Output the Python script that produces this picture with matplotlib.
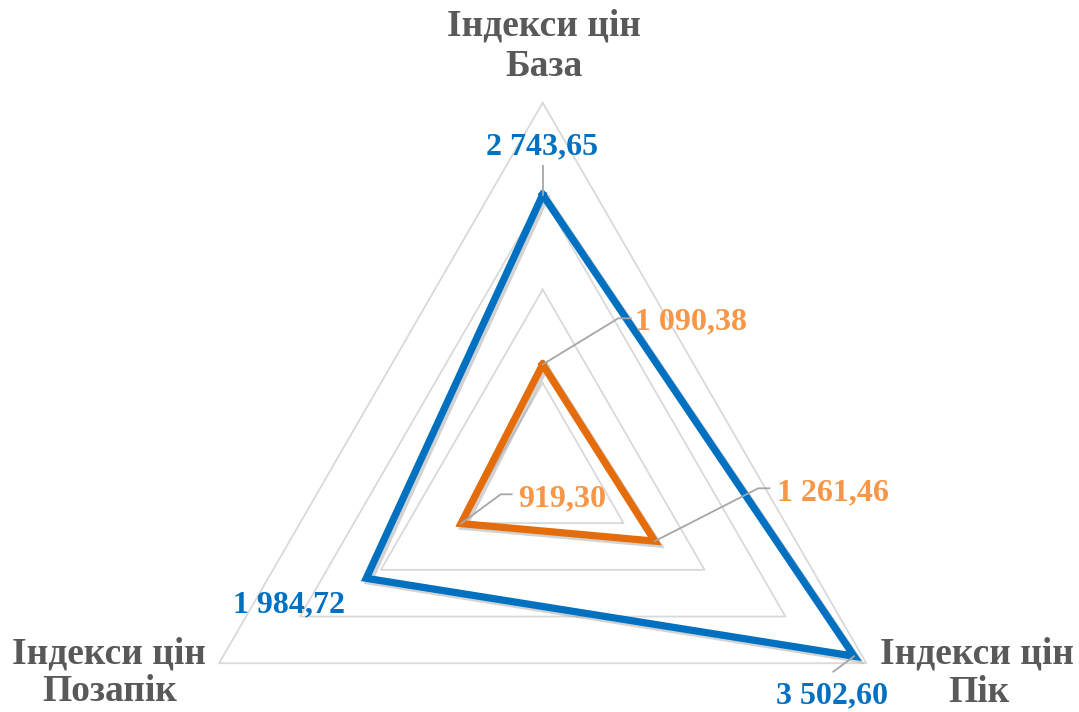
import numpy as np
import matplotlib.pyplot as plt
import matplotlib.patheffects as pe
from matplotlib.lines import Line2D

W, H = 1079, 712

# дані
categories = ['Індекси цін\nБаза', 'Індекси цін\nПік', 'Індекси цін\nПозапік']
blue_vals = [2743.65, 3502.60, 1984.72]
orange_vals = [1090.38, 1261.46, 919.30]
grid_levels = [910, 1820, 2730, 3640]

BLUE = '#0070C0'
ORANGE = '#E46C0A'
ORANGE_TXT = '#F79646'
GRID = '#D9D9D9'
LEADER = '#A6A6A6'
TXT = '#595959'
FONT = 'Liberation Serif'


def fmt(v):
    return f'{v:,.2f}'.replace(',', ' ').replace('.', ',')


def fx(x):
    return x / W


def fy(y):
    return 1 - y / H


fig = plt.figure(figsize=(W / 100, H / 100), dpi=100)
cx, cy, R = 542.7, 476.4, 373.7
ax = fig.add_axes([fx(cx - R), (H - cy - R) / H, 2 * R / W, 2 * R / H], projection='polar')
ax.set_theta_offset(np.pi / 2)
ax.set_theta_direction(-1)
ax.set_ylim(0, grid_levels[-1])
ax.set_axis_off()

theta = np.deg2rad([0, 120, 240, 0])

# сітка
for lv in grid_levels:
    ax.plot(theta, [lv] * 4, color=GRID, lw=1.3, clip_on=False, zorder=1)

shadow = [pe.SimpleLineShadow(offset=(2, -2), shadow_color='gray', alpha=0.35), pe.Normal()]

ax.plot(theta, orange_vals + orange_vals[:1], color=ORANGE, lw=5.2, clip_on=False,
        solid_joinstyle='miter', path_effects=shadow, zorder=3)
ax.plot(theta, blue_vals + blue_vals[:1], color=BLUE, lw=5.2, clip_on=False,
        solid_joinstyle='miter', path_effects=shadow, zorder=4)

# підписи осей
cat_pos = [[(543.5, 35), (543.5, 76)],
           [(977, 663), (979, 702)],
           [(109, 663), (110, 701)]]
for cat, pos in zip(categories, cat_pos):
    for line, (x, y) in zip(cat.split('\n'), pos):
        fig.text(fx(x), fy(y), line, ha='center', va='baseline', fontsize=27,
                 fontweight='bold', color=TXT, family=FONT)

# підписи даних
blue_lbl = [(542.5, 154, 'center'), (832, 703, 'center'), (288.7, 612.7, 'center')]
orange_lbl = [(635, 329, 'left'), (777, 500.7, 'left'), (518, 506.7, 'left')]
for vals, lbls, col in [(blue_vals, blue_lbl, BLUE), (orange_vals, orange_lbl, ORANGE_TXT)]:
    for v, (x, y, ha) in zip(vals, lbls):
        fig.text(fx(x), fy(y), fmt(v), ha=ha, va='baseline', fontsize=23,
                 fontweight='bold', color=col, family=FONT)

# лінії-виноски
leaders = [(blue_vals[0], 0, [(542.7, 166)]),
           (blue_vals[1], 120, [(833.3, 671.7)]),
           (orange_vals[0], 0, [(618.3, 318.3), (630.7, 318.3)]),
           (orange_vals[1], 120, [(758.3, 488.3), (769.3, 488.3)]),
           (orange_vals[2], 240, [(500.7, 494.3), (511.7, 494.3)])]
for v, ang, pts in leaders:
    px, py = ax.transData.transform((np.deg2rad(ang), v))
    xs = [px / W] + [fx(p[0]) for p in pts]
    ys = [py / H] + [fy(p[1]) for p in pts]
    fig.add_artist(Line2D(xs, ys, color=LEADER, lw=1.3, transform=fig.transFigure, zorder=5))

fig.savefig('out.png', dpi=100, facecolor='white')
